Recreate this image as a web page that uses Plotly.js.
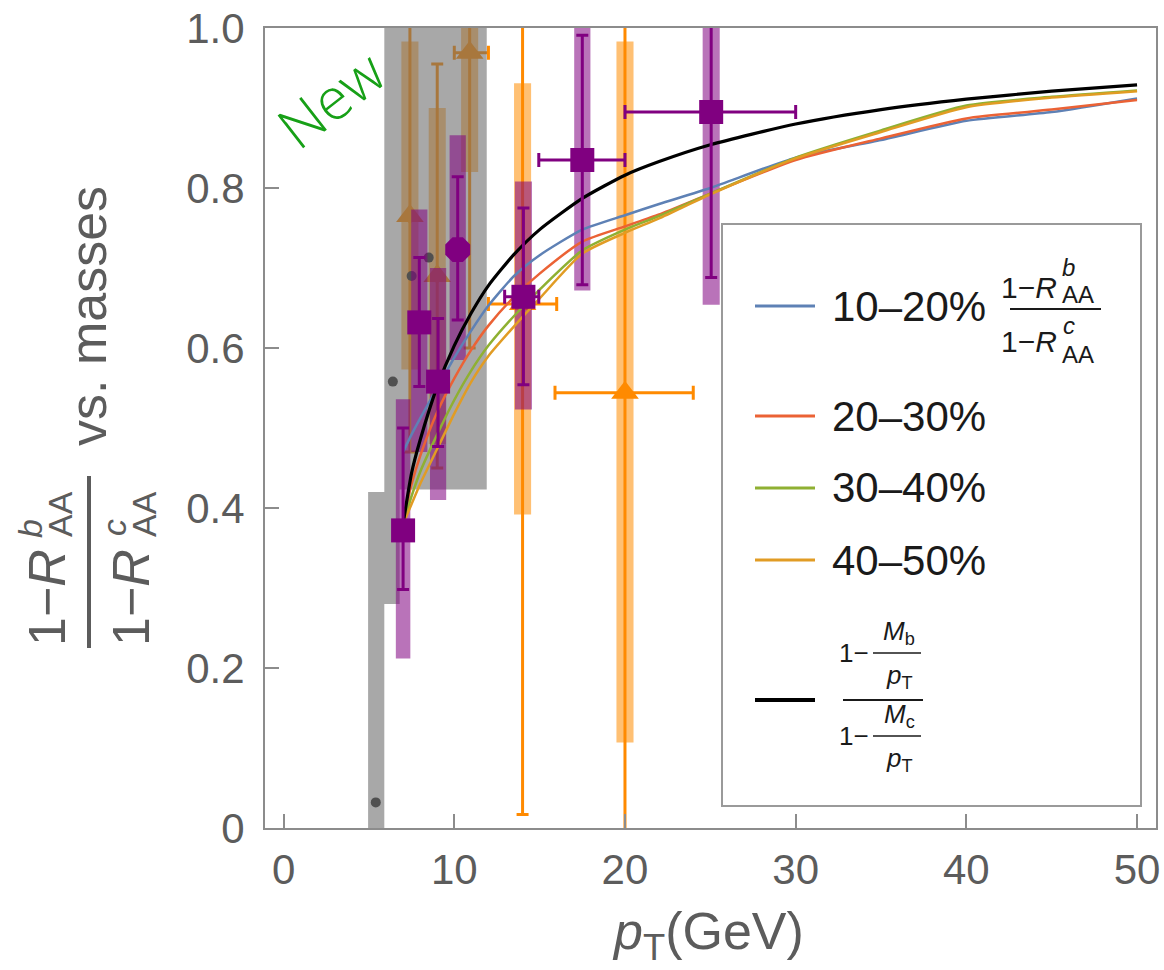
<!DOCTYPE html>
<html><head><meta charset="utf-8">
<script src="https://cdn.plot.ly/plotly-3.0.1.min.js"></script>
<style>html,body{margin:0;padding:0;background:#fff;}#chart{width:1164px;height:970px;}</style>
</head><body><div id="chart"></div>
<script>
// ---------------- data ----------------
const curvePt   = [7, 7.5, 8, 9, 10, 11, 12, 13.5, 15, 17.5, 20, 22, 25, 30, 35, 40, 45, 50];
const ratio1020 = [0.47, 0.492, 0.512, 0.55, 0.588, 0.622, 0.653, 0.69, 0.716, 0.748, 0.766, 0.78, 0.80, 0.838, 0.860, 0.884, 0.895, 0.912];
const ratio2030 = [0.385, 0.43, 0.465, 0.52, 0.562, 0.598, 0.628, 0.664, 0.693, 0.733, 0.752, 0.767, 0.793, 0.835, 0.862, 0.887, 0.898, 0.91];
const ratio3040 = [0.38, 0.415, 0.445, 0.492, 0.535, 0.572, 0.603, 0.64, 0.673, 0.722, 0.748, 0.765, 0.793, 0.838, 0.872, 0.903, 0.914, 0.922];
const ratio4050 = [0.38, 0.405, 0.43, 0.474, 0.518, 0.558, 0.59, 0.627, 0.662, 0.718, 0.744, 0.762, 0.792, 0.837, 0.870, 0.901, 0.913, 0.921];
const massRatio = [0.38, 0.444, 0.485, 0.552, 0.603, 0.644, 0.678, 0.717, 0.748, 0.787, 0.816, 0.833, 0.854, 0.880, 0.898, 0.911, 0.921, 0.929];

// orange (triangles) data
const orX     = [7.4, 9.0, 10.9, 14.0, 20.0];
const orY     = [0.765, 0.69, 0.969, 0.655, 0.544];
const orStatLo= [0.47, 0.45, 0.60, 0.017, -0.05];
const orStatHi= [1.10, 0.955, 1.10, 1.10, 1.10];
const orXLo   = [7.4, 9.0, 10.0, 12.0, 15.9];
const orXHi   = [7.4, 9.0, 12.0, 16.0, 24.0];
const orSysLo = [0.573, 0.48, 0.82, 0.392, 0.107];
const orSysHi = [0.983, 0.90, 1.05, 0.931, 0.983];
const orSysW  = [1.0, 1.0, 1.0, 1.0, 1.0];

// purple (squares) data
const puX     = [7.0, 7.95, 9.05, 10.2, 14.05, 17.5, 25.05];
const puY     = [0.372, 0.632, 0.558, 0.723, 0.664, 0.835, 0.895];
const puStatLo= [0.298, 0.552, 0.477, 0.635, 0.554, 0.679, 0.688];
const puStatHi= [0.50, 0.713, 0.637, 0.814, 0.775, 0.991, 1.10];
const puXLo   = [7.0, 7.95, 9.05, 10.2, 12.95, 14.95, 20.0];
const puXHi   = [7.0, 7.95, 9.05, 10.2, 14.95, 20.0, 30.0];
const puSysLo = [0.212, 0.47, 0.41, 0.585, 0.523, 0.672, 0.654];
const puSysHi = [0.536, 0.773, 0.70, 0.866, 0.808, 1.0, 1.05];
const puSysW  = [0.85, 0.95, 0.95, 0.95, 1.0, 0.95, 1.0];

// gray data points and their boxes
const grX     = [5.4, 6.4, 7.5, 8.5];
const grY     = [0.032, 0.558, 0.69, 0.713];
const grBoxX0 = [4.95, 5.9, 5.9];
const grBoxX1 = [5.9, 6.8, 11.9];
const grBoxY0 = [0.0, 0.28, 0.423];
const grBoxY1 = [0.42, 0.423, 1.05];

const xTickVals = [0, 10, 20, 30, 40, 50];
const xTickText = ['0', '10', '20', '30', '40', '50'];
const yTickVals = [0, 0.2, 0.4, 0.6, 0.8, 1.0];
const yTickText = ['0', '0.2', '0.4', '0.6', '0.8', '1.0'];

const legendLabels = ['10\u201320%', '20\u201330%', '30\u201340%', '40\u201350%'];

// ---------------- helpers ----------------
const FONT = 'Liberation Sans, Arial, sans-serif';
const W = 1164, H = 970, ML = 265, MR = 8, MT = 28, MB = 142;
const PW = W - ML - MR, PH = H - MT - MB;
const px = v => (v - ML) / PW;
const py = v => (H - MB - v) / PH;

function boxPolys(x0s, x1s, y0s, y1s) {
  const x = [], y = [];
  for (let i = 0; i < x0s.length; i++) {
    x.push(x0s[i], x1s[i], x1s[i], x0s[i], x0s[i], null);
    y.push(y0s[i], y0s[i], y1s[i], y1s[i], y0s[i], null);
  }
  return {x, y};
}
const orBox = boxPolys(orX.map((c,i)=>c-orSysW[i]/2), orX.map((c,i)=>c+orSysW[i]/2), orSysLo, orSysHi);
const puBox = boxPolys(puX.map((c,i)=>c-puSysW[i]/2), puX.map((c,i)=>c+puSysW[i]/2), puSysLo, puSysHi);
const grBox = boxPolys(grBoxX0, grBoxX1, grBoxY0, grBoxY1);

const ORANGE = '#ff8a00', PURPLE = '#800080';
const fillTrace = (b, color) => ({type:'scatter', mode:'lines', x:b.x, y:b.y, fill:'toself',
  fillcolor:color, line:{width:0, color:color}, hoverinfo:'skip'});

const traces = [
  fillTrace(orBox, 'rgba(255,140,0,0.55)'),
  {type:'scatter', mode:'markers', x:orX, y:orY,
   marker:{symbol:'triangle-up', size:24, color:ORANGE, opacity:1, line:{width:0}},
   error_y:{type:'data', symmetric:false, array:orStatHi.map((h,i)=>h-orY[i]), arrayminus:orY.map((v,i)=>v-orStatLo[i]), color:ORANGE, thickness:3, width:6},
   error_x:{type:'data', symmetric:false, array:orXHi.map((h,i)=>h-orX[i]), arrayminus:orX.map((v,i)=>v-orXLo[i]), color:ORANGE, thickness:3, width:7}},
  fillTrace(grBox, 'rgba(105,105,105,0.58)'),
  {type:'scatter', mode:'markers', x:grX, y:grY, marker:{size:10, color:'#505050', line:{width:0}}},
  fillTrace(puBox, 'rgba(128,0,128,0.55)'),
  {type:'scatter', mode:'lines', x:curvePt, y:ratio1020, line:{color:'#5e81b5', width:2.5, shape:'spline', smoothing:0.6}},
  {type:'scatter', mode:'lines', x:curvePt, y:ratio2030, line:{color:'#eb6235', width:2.5, shape:'spline', smoothing:0.6}},
  {type:'scatter', mode:'lines', x:curvePt, y:ratio3040, line:{color:'#8fb032', width:2.5, shape:'spline', smoothing:0.6}},
  {type:'scatter', mode:'lines', x:curvePt, y:ratio4050, line:{color:'#e19c24', width:2.5, shape:'spline', smoothing:0.6}},
  {type:'scatter', mode:'lines', x:curvePt, y:massRatio, line:{color:'#000000', width:3.2, shape:'spline', smoothing:0.6}},
  {type:'scatter', mode:'markers', x:puX, y:puY,
   marker:{symbol:['square','square','square','octagon','square','square','square'], size:[24,24,24,27,24,24,24], color:PURPLE, opacity:1, line:{width:0}},
   error_y:{type:'data', symmetric:false, array:puStatHi.map((h,i)=>h-puY[i]), arrayminus:puY.map((v,i)=>v-puStatLo[i]), color:PURPLE, thickness:3, width:6},
   error_x:{type:'data', symmetric:false, array:puXHi.map((h,i)=>h-puX[i]), arrayminus:puX.map((v,i)=>v-puXLo[i]), color:PURPLE, thickness:3, width:7}}
];

// ---------------- annotations / shapes ----------------
const GRAY = '#5c5c5c', TXT = '#1a1a1a';
function ann(text, x, y, size, extra) {
  return Object.assign({text:text, x:px(x), y:py(y), xref:'paper', yref:'paper', showarrow:false,
    xanchor:'center', yanchor:'middle', font:{size:size, family:FONT, color:TXT}}, extra || {});
}
function hline(x0, x1, y, color, w) {
  return {type:'line', xref:'paper', yref:'paper', x0:px(x0), x1:px(x1), y0:py(y), y1:py(y), line:{color:color, width:w}};
}
function vline(x, y0, y1, color, w) {
  return {type:'line', xref:'paper', yref:'paper', x0:px(x), x1:px(x), y0:py(y0), y1:py(y1), line:{color:color, width:w}};
}

const annotations = [];
const shapes = [];

// y axis title (rotated fraction + "vs. masses")
const rot = s => ({textangle:-90, font:{size:s, family:FONT, color:GRAY}});
annotations.push(ann('1\u2212<i>R</i>', 47, 598, 52, rot(52)));
annotations.push(ann('<i>b</i>', 30, 528, 34, rot(34)));
annotations.push(ann('AA', 60, 514, 34, rot(34)));
annotations.push(ann('1\u2212<i>R</i>', 131, 598, 52, rot(52)));
annotations.push(ann('<i>c</i>', 114, 528, 34, rot(34)));
annotations.push(ann('AA', 144, 514, 34, rot(34)));
shapes.push(vline(89, 476, 648, GRAY, 4));
annotations.push(ann('vs. masses', 88, 316, 52, rot(52)));

// x axis title
annotations.push(ann('<i>p</i><sub>T</sub>(GeV)', 708, 935, 52, {font:{size:52, family:FONT, color:GRAY}}));

// "New"
annotations.push(ann('New', 330, 98, 58, {textangle:-38, font:{size:58, family:'Open Sans, Noto Sans, sans-serif', color:'#17a017', weight:300}}));

// legend box
shapes.push({type:'rect', xref:'paper', yref:'paper', x0:px(722), x1:px(1141), y0:py(806), y1:py(224),
  line:{color:'#9a9a9a', width:2}, fillcolor:'#ffffff', layer:'above'});
const legendRows = [306, 416, 488, 560];
const legendColors = ['#5e81b5', '#eb6235', '#8fb032', '#e19c24'];
legendLabels.forEach((lab, i) => {
  shapes.push(hline(755, 815, legendRows[i], legendColors[i], 3));
  annotations.push(ann(lab, 830, legendRows[i], 42, {xanchor:'left'}));
});
// R fraction next to first label
shapes.push(hline(1010, 1101, 309, TXT, 2));
annotations.push(ann('1\u2212<i>R</i>', 1059, 288, 30, {xanchor:'right'}));
annotations.push(ann('<i>b</i>', 1060, 267, 24, {xanchor:'left'}));
annotations.push(ann('AA', 1060, 294, 24, {xanchor:'left'}));
annotations.push(ann('1\u2212<i>R</i>', 1059, 342, 30, {xanchor:'right'}));
annotations.push(ann('<i>c</i>', 1061, 325, 24, {xanchor:'left'}));
annotations.push(ann('AA', 1060, 354, 24, {xanchor:'left'}));

// black mass-ratio legend entry
const r5 = 700;
shapes.push(hline(755, 815, r5, '#000000', 4));
shapes.push(hline(843, 923, r5, TXT, 2));
shapes.push(hline(873, 921, r5 - 47, TXT, 1.5));
shapes.push(hline(873, 921, r5 + 36, TXT, 1.5));
annotations.push(ann('1\u2212', 871, r5 - 47, 26, {xanchor:'right'}));
annotations.push(ann('<i>M</i><sub>b</sub>', 899, r5 - 68, 26));
annotations.push(ann('<i>p</i><sub>T</sub>', 899, r5 - 24, 26));
annotations.push(ann('1\u2212', 871, r5 + 36, 26, {xanchor:'right'}));
annotations.push(ann('<i>M</i><sub>c</sub>', 899, r5 + 15, 26));
annotations.push(ann('<i>p</i><sub>T</sub>', 899, r5 + 59, 26));

const axisCommon = {showgrid:false, zeroline:false, showline:true, mirror:true, linecolor:'#8c8c8c', linewidth:2,
  ticks:'inside', ticklen:14, tickwidth:2, tickcolor:'#8c8c8c', tickfont:{size:42, family:FONT, color:GRAY}};

const layout = {
  width:W, height:H, margin:{l:ML, r:MR, t:MT, b:MB, pad:0},
  paper_bgcolor:'#ffffff', plot_bgcolor:'#ffffff', showlegend:false,
  font:{family:FONT, color:GRAY},
  xaxis:Object.assign({range:[-1.09, 51.11], tickmode:'array', tickvals:xTickVals, ticktext:xTickText, ticklabelstandoff:4}, axisCommon),
  yaxis:Object.assign({range:[0, 1], tickmode:'array', tickvals:yTickVals, ticktext:yTickText, ticklabelstandoff:10}, axisCommon),
  annotations:annotations, shapes:shapes
};

Plotly.newPlot('chart', traces, layout, {displayModeBar:false, staticPlot:true});
</script></body></html>
